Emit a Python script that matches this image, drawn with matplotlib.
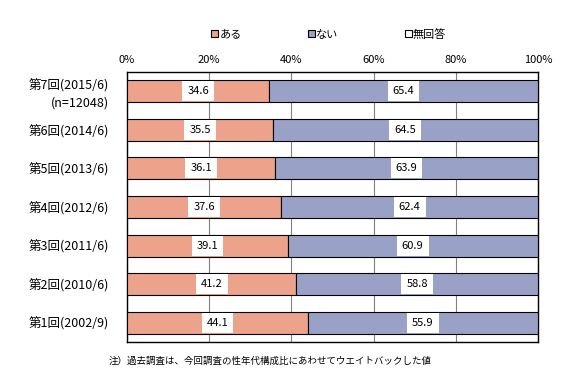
import matplotlib
matplotlib.use("Agg")
import matplotlib.pyplot as plt
from matplotlib.patches import Patch

plt.rcParams['font.family'] = ['Noto Sans CJK JP', 'DejaVu Sans']

categories = ["第7回(2015/6)\n(n=12048)", "第6回(2014/6)", "第5回(2013/6)",
              "第4回(2012/6)", "第3回(2011/6)", "第2回(2010/6)", "第1回(2002/9)"]
aru = [34.6, 35.5, 36.1, 37.6, 39.1, 41.2, 44.1]
nai = [65.4, 64.5, 63.9, 62.4, 60.9, 58.8, 55.9]
mukaito = [0, 0, 0, 0, 0, 0, 0]
series_names = ["ある", "ない", "無回答"]
ticks = [0, 20, 40, 60, 80, 100]
note = "注）過去調査は、今回調査の性年代構成比にあわせてウエイトバックした値"

c_aru = "#EDA28B"
c_nai = "#9AA1C7"
c_mu = "#FFFFFF"

fig = plt.figure(figsize=(5.62, 3.87), dpi=100)
ax = fig.add_axes([0.226, 0.116, 0.731, 0.698])

n = len(categories)
ypos = list(range(n - 1, -1, -1))
h = 0.57
left2 = [a for a in aru]
left3 = [a + b for a, b in zip(aru, nai)]
ax.barh(ypos, aru, height=h, color=c_aru, edgecolor="black", linewidth=0.8, zorder=3)
ax.barh(ypos, nai, left=left2, height=h, color=c_nai, edgecolor="black", linewidth=0.8, zorder=3)
ax.barh(ypos, mukaito, left=left3, height=h, color=c_mu, edgecolor="black", linewidth=0.8, zorder=3)

for y, a, b in zip(ypos, aru, nai):
    ax.text(a / 2, y, f"{a:.1f}", ha="center", va="center", fontsize=8, zorder=4,
            bbox=dict(boxstyle="square,pad=0.45", fc="white", ec="none"))
    ax.text(a + b / 2, y, f"{b:.1f}", ha="center", va="center", fontsize=8, zorder=4,
            bbox=dict(boxstyle="square,pad=0.45", fc="white", ec="none"))

ax.set_xlim(0, 100)
ax.set_ylim(-0.5, n - 0.5)
ax.set_xticks(ticks)
ax.set_xticklabels([f"{t}%" for t in ticks], fontsize=8)
ax.xaxis.tick_top()
ax.tick_params(axis="x", length=0, pad=5)
ax.set_yticks(ypos)
ax.set_yticklabels(categories, fontsize=9, ha="right", linespacing=1.35)
ax.tick_params(axis="y", length=0, pad=13)
ax.grid(axis="x", color="#808080", linewidth=0.8, zorder=0)
for s in ax.spines.values():
    s.set_color("black")
    s.set_linewidth(1.0)

handles = [Patch(facecolor=c, edgecolor="black", linewidth=0.8) for c in (c_aru, c_nai, c_mu)]
fig.legend(handles, series_names, loc="center", bbox_to_anchor=(0.585, 0.912), ncol=3,
           frameon=False, fontsize=8, handlelength=0.6, handleheight=0.6,
           handletextpad=0.1, columnspacing=6.0)

fig.text(0.48, 0.067, note, ha="center", va="center", fontsize=6.8)

fig.savefig("out.png", dpi=100)
